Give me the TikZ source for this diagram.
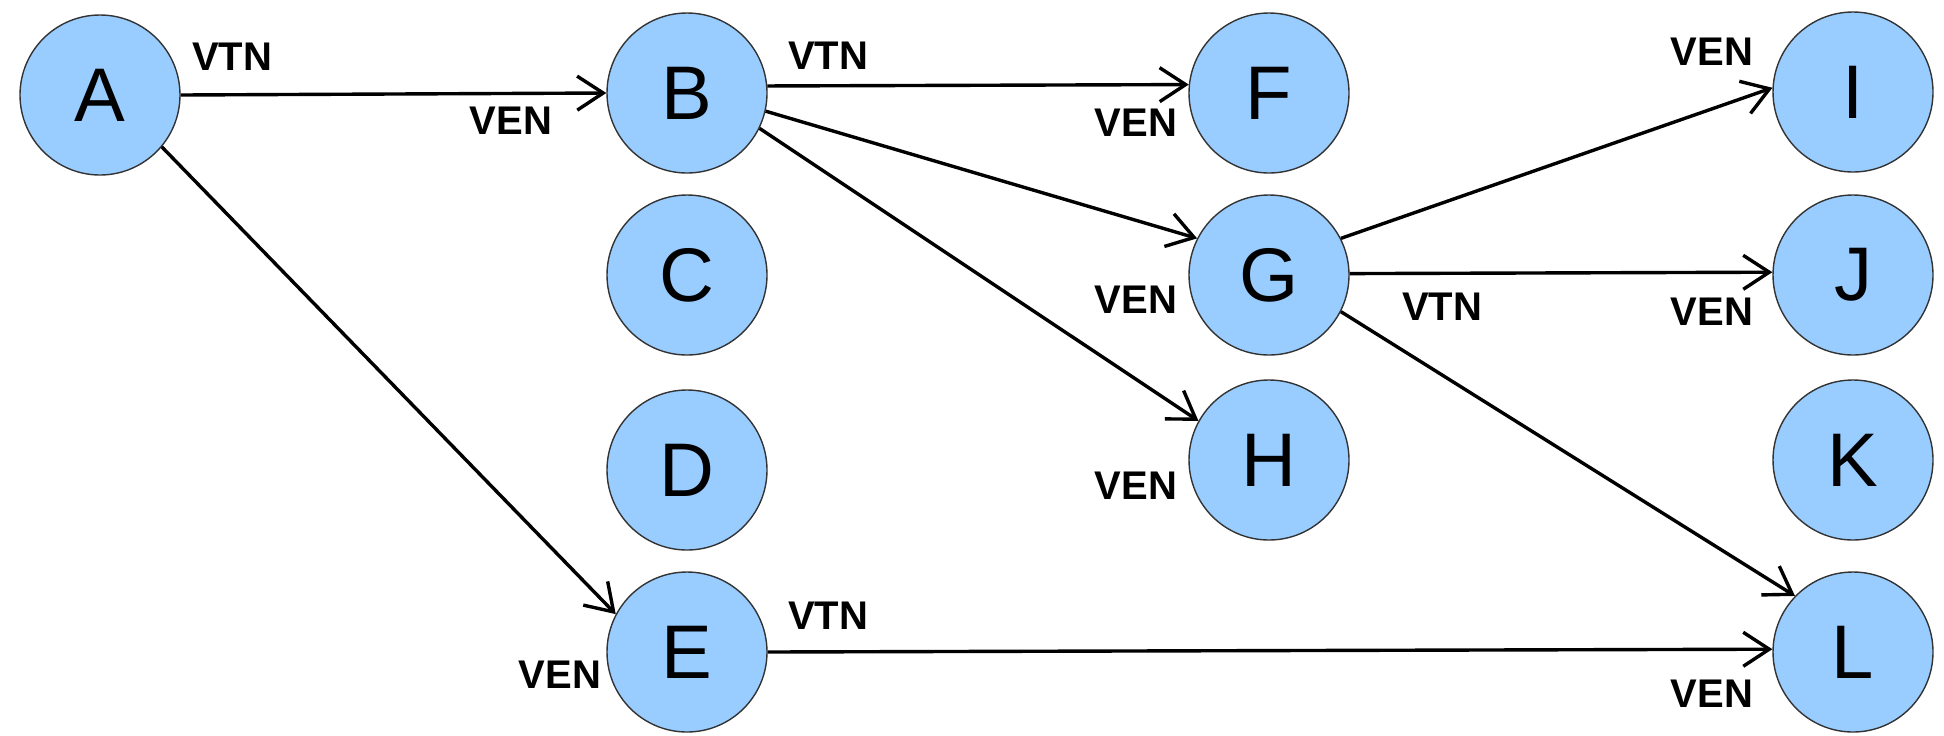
\documentclass[tikz,border=0pt]{standalone}
\usepackage{fontspec}
\setmainfont{Liberation Sans}
\usetikzlibrary{arrows.meta}
\definecolor{nodefill}{HTML}{99CCFF}
\definecolor{nodeline}{HTML}{333333}
\tikzset{
  vertex/.style={circle, draw=nodeline, line width=0.7pt, fill=nodefill, minimum size=80pt, inner sep=0pt, font=\fontsize{38}{40}\selectfont},
  lbl/.style={inner sep=0pt, font=\fontsize{20}{22}\selectfont\bfseries},
  conn/.style={line width=1.7pt, -{Straight Barb[length=13pt,width=17pt,line width=1.7pt]}}
}
\begin{document}
\begin{tikzpicture}[x=0.5pt,y=-0.5pt]
\useasboundingbox (0,0) rectangle (1944,735);
\node[vertex] (A) at (100,95) {A};
\node[vertex] (B) at (687,93) {B};
\node[vertex] (F) at (1269,93) {F};
\node[vertex] (I) at (1853,92) {I};
\node[vertex] (C) at (687,275) {C};
\node[vertex] (G) at (1269,275) {G};
\node[vertex] (J) at (1853,275) {J};
\node[vertex] (D) at (687,470) {D};
\node[vertex] (H) at (1269,460) {H};
\node[vertex] (K) at (1853,460) {K};
\node[vertex] (E) at (687,652) {E};
\node[vertex] (L) at (1853,652) {L};

\draw[conn] (A.0) -- (B.180);
\draw[conn] (A.-40.7) -- (E.152);
\draw[conn] (B.5.6) -- (F.174.3);
\draw[conn] (B.-13.5) -- (G.153.4);
\draw[conn] (B.-26) -- (H.151.2);
\draw[conn] (G.27.8) -- (I.177);
\draw[conn] (G.1.5) -- (J.178.5);
\draw[conn] (G.-27.2) -- (L.136.4);
\draw[conn] (E.0) -- (L.178.6);

\node[lbl] (l1) at (232,57) {VTN};
\node[lbl] (l2) at (511,121) {VEN};
\node[lbl] (l3) at (828,56) {VTN};
\node[lbl] (l4) at (1136,123) {VEN};
\node[lbl] (l5) at (1136,300) {VEN};
\node[lbl] (l6) at (1136,486) {VEN};
\node[lbl] (l7) at (1712,52) {VEN};
\node[lbl] (l8) at (1442,307) {VTN};
\node[lbl] (l9) at (1712,312) {VEN};
\node[lbl] (l10) at (560,675) {VEN};
\node[lbl] (l11) at (828,616) {VTN};
\node[lbl] (l12) at (1712,694) {VEN};
\end{tikzpicture}
\end{document}
